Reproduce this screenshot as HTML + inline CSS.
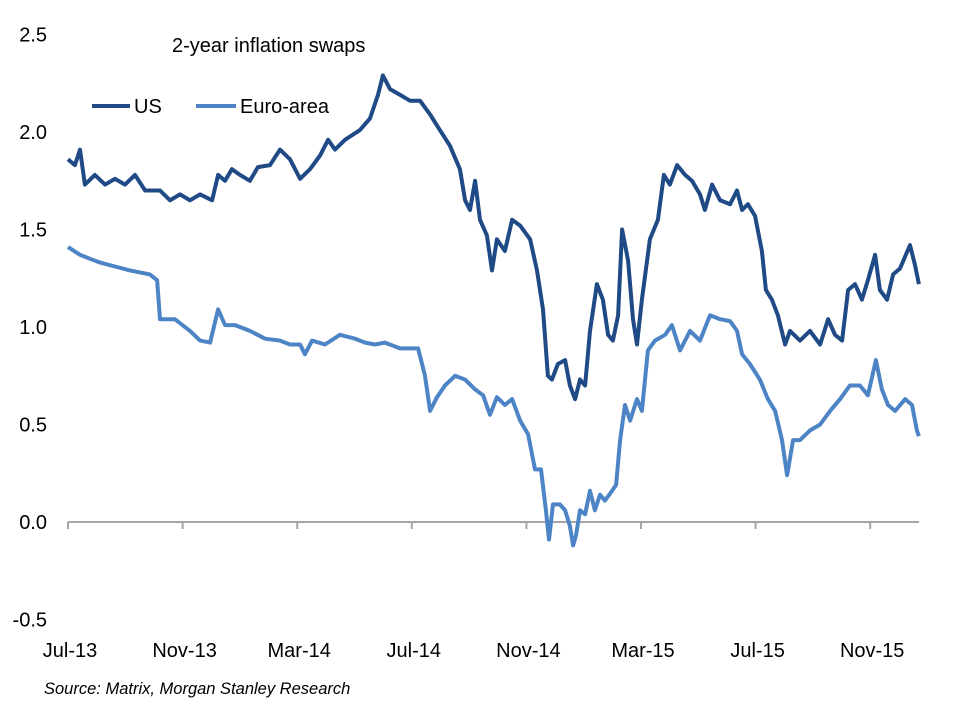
<!DOCTYPE html>
<html><head><meta charset="utf-8"><style>
html,body{margin:0;padding:0;background:#fff;}
svg{display:block;font-family:"Liberation Sans",Arial,sans-serif;}
</style></head><body>
<svg id="chart" width="960" height="709" viewBox="0 0 960 709">
<text x="172" y="52" font-size="20" fill="#000">2-year inflation swaps</text>
<g>
<g>
<line x1="92" y1="106" x2="130" y2="106" stroke="#1f4a86" stroke-width="4"/>
<text x="134" y="113" font-size="20">US</text></g>
<g>
<line x1="196" y1="106" x2="236" y2="106" stroke="#4d84c6" stroke-width="4"/>
<text x="240" y="113" font-size="20">Euro-area</text></g>
</g>
<g id="yaxis"></g>
<g id="xaxis"></g>
<g id="series"></g>
<text x="44" y="694" font-size="16.5" font-style="italic">Source: Matrix,  Morgan Stanley Research</text>
</svg>
<script>
// months since Jul-2013
const usMonths=[0,.24,.42,.59,.94,1.29,1.64,1.99,2.34,2.69,3.21,3.56,3.91,4.26,4.61,5.03,5.24,5.48,5.72,6.00,6.35,6.63,7.05,7.40,7.75,8.10,8.45,8.80,9.08,9.32,9.67,10.19,10.54,10.82,10.99,11.24,11.59,11.94,12.29,12.64,12.98,13.33,13.68,13.86,14.03,14.21,14.38,14.62,14.80,14.97,15.25,15.50,15.78,16.13,16.37,16.58,16.75,16.89,17.10,17.35,17.52,17.70,17.87,18.05,18.22,18.46,18.67,18.85,19.02,19.20,19.34,19.55,19.72,19.86,20.03,20.31,20.59,20.80,21.01,21.26,21.54,21.78,22.06,22.23,22.48,22.76,23.11,23.35,23.53,23.73,23.98,24.22,24.36,24.57,24.78,25.03,25.20,25.55,25.90,26.25,26.53,26.77,27.02,27.23,27.47,27.71,27.92,28.17,28.34,28.59,28.80,29.04,29.39,29.56,29.70];
const usValues=[1.86,1.83,1.91,1.73,1.78,1.73,1.76,1.73,1.78,1.70,1.70,1.65,1.68,1.65,1.68,1.65,1.78,1.75,1.81,1.78,1.75,1.82,1.83,1.91,1.86,1.76,1.81,1.88,1.96,1.91,1.96,2.01,2.07,2.19,2.29,2.22,2.19,2.16,2.16,2.09,2.01,1.93,1.81,1.65,1.60,1.75,1.55,1.47,1.29,1.45,1.39,1.55,1.52,1.45,1.29,1.09,0.75,0.73,0.81,0.83,0.70,0.63,0.73,0.70,0.98,1.22,1.14,0.96,0.93,1.06,1.50,1.34,1.04,0.91,1.14,1.45,1.55,1.78,1.73,1.83,1.78,1.75,1.68,1.60,1.73,1.65,1.63,1.70,1.60,1.63,1.57,1.39,1.19,1.14,1.06,0.91,0.98,0.93,0.98,0.91,1.04,0.96,0.93,1.19,1.22,1.14,1.24,1.37,1.19,1.14,1.27,1.30,1.42,1.32,1.22];
const euMonths=[0,.42,.77,1.12,1.64,2.16,2.86,3.11,3.21,3.73,4.26,4.61,4.96,5.24,5.48,5.83,6.35,6.88,7.40,7.75,8.10,8.27,8.52,8.97,9.49,10.02,10.37,10.72,11.06,11.59,12.22,12.46,12.64,12.88,13.16,13.51,13.86,14.21,14.49,14.73,14.97,15.25,15.50,15.78,16.06,16.30,16.51,16.68,16.79,16.93,17.17,17.35,17.52,17.63,17.73,17.87,18.05,18.22,18.39,18.57,18.74,18.99,19.13,19.27,19.44,19.62,19.86,20.03,20.24,20.49,20.84,21.08,21.36,21.71,22.06,22.41,22.76,23.11,23.35,23.53,23.80,24.15,24.43,24.68,24.92,25.10,25.31,25.55,25.90,26.25,26.60,26.95,27.29,27.64,27.92,28.20,28.41,28.62,28.87,29.22,29.46,29.63,29.70];
const euValues=[1.41,1.37,1.35,1.33,1.31,1.29,1.27,1.24,1.04,1.04,0.98,0.93,0.92,1.09,1.01,1.01,0.98,0.94,0.93,0.91,0.91,0.86,0.93,0.91,0.96,0.94,0.92,0.91,0.92,0.89,0.89,0.75,0.57,0.64,0.70,0.75,0.73,0.68,0.65,0.55,0.64,0.60,0.63,0.52,0.45,0.27,0.27,0.06,-0.09,0.09,0.09,0.06,-0.02,-0.12,-0.07,0.06,0.04,0.16,0.06,0.14,0.11,0.16,0.19,0.42,0.60,0.52,0.63,0.57,0.88,0.93,0.96,1.01,0.88,0.98,0.93,1.06,1.04,1.03,0.98,0.86,0.81,0.73,0.63,0.57,0.42,0.24,0.42,0.42,0.47,0.50,0.57,0.63,0.70,0.70,0.65,0.83,0.68,0.60,0.57,0.63,0.60,0.47,0.44];
const yTicks=[2.5,2.0,1.5,1.0,0.5,0.0,-0.5];
const xTickLabels=["Jul-13","Nov-13","Mar-14","Jul-14","Nov-14","Mar-15","Jul-15","Nov-15"];
const xTickMonths=[0,4,8,12,16,20,24,28];

const NS="http://www.w3.org/2000/svg";
const xs=m=>68+m*28.65;
const ys=v=>522-v*195;
function mk(tag,attrs,parent){const e=document.createElementNS(NS,tag);for(const k in attrs)e.setAttribute(k,attrs[k]);parent.appendChild(e);return e;}
const ya=document.getElementById('yaxis'),xa=document.getElementById('xaxis'),sg=document.getElementById('series');
yTicks.forEach(v=>{const t=mk('text',{x:47,y:ys(v)+7,'font-size':20,'text-anchor':'end'},ya);t.textContent=v.toFixed(1);

});
const ax=mk('line',{x1:68,y1:522,x2:919,y2:522,stroke:'#a6a6a6','stroke-width':2},xa);


xTickMonths.forEach((m,i)=>{const tk=mk('line',{x1:xs(m),y1:522,x2:xs(m),y2:529,stroke:'#a6a6a6','stroke-width':2},xa);


const t=mk('text',{x:xs(m)+2,y:657,'font-size':20,'text-anchor':'middle'},xa);t.textContent=xTickLabels[i];

});
function line(ms,vs,col,name){const d=ms.map((m,i)=>(i?'L':'M')+xs(m).toFixed(1)+','+ys(vs[i]).toFixed(1)).join('');
const p=mk('path',{d:d,fill:'none',stroke:col,'stroke-width':4,'stroke-linejoin':'round'},sg);

}
line(euMonths,euValues,'#4d84c6','euro-area-line');
line(usMonths,usValues,'#1f4a86','us-line');
</script>
</body></html>
